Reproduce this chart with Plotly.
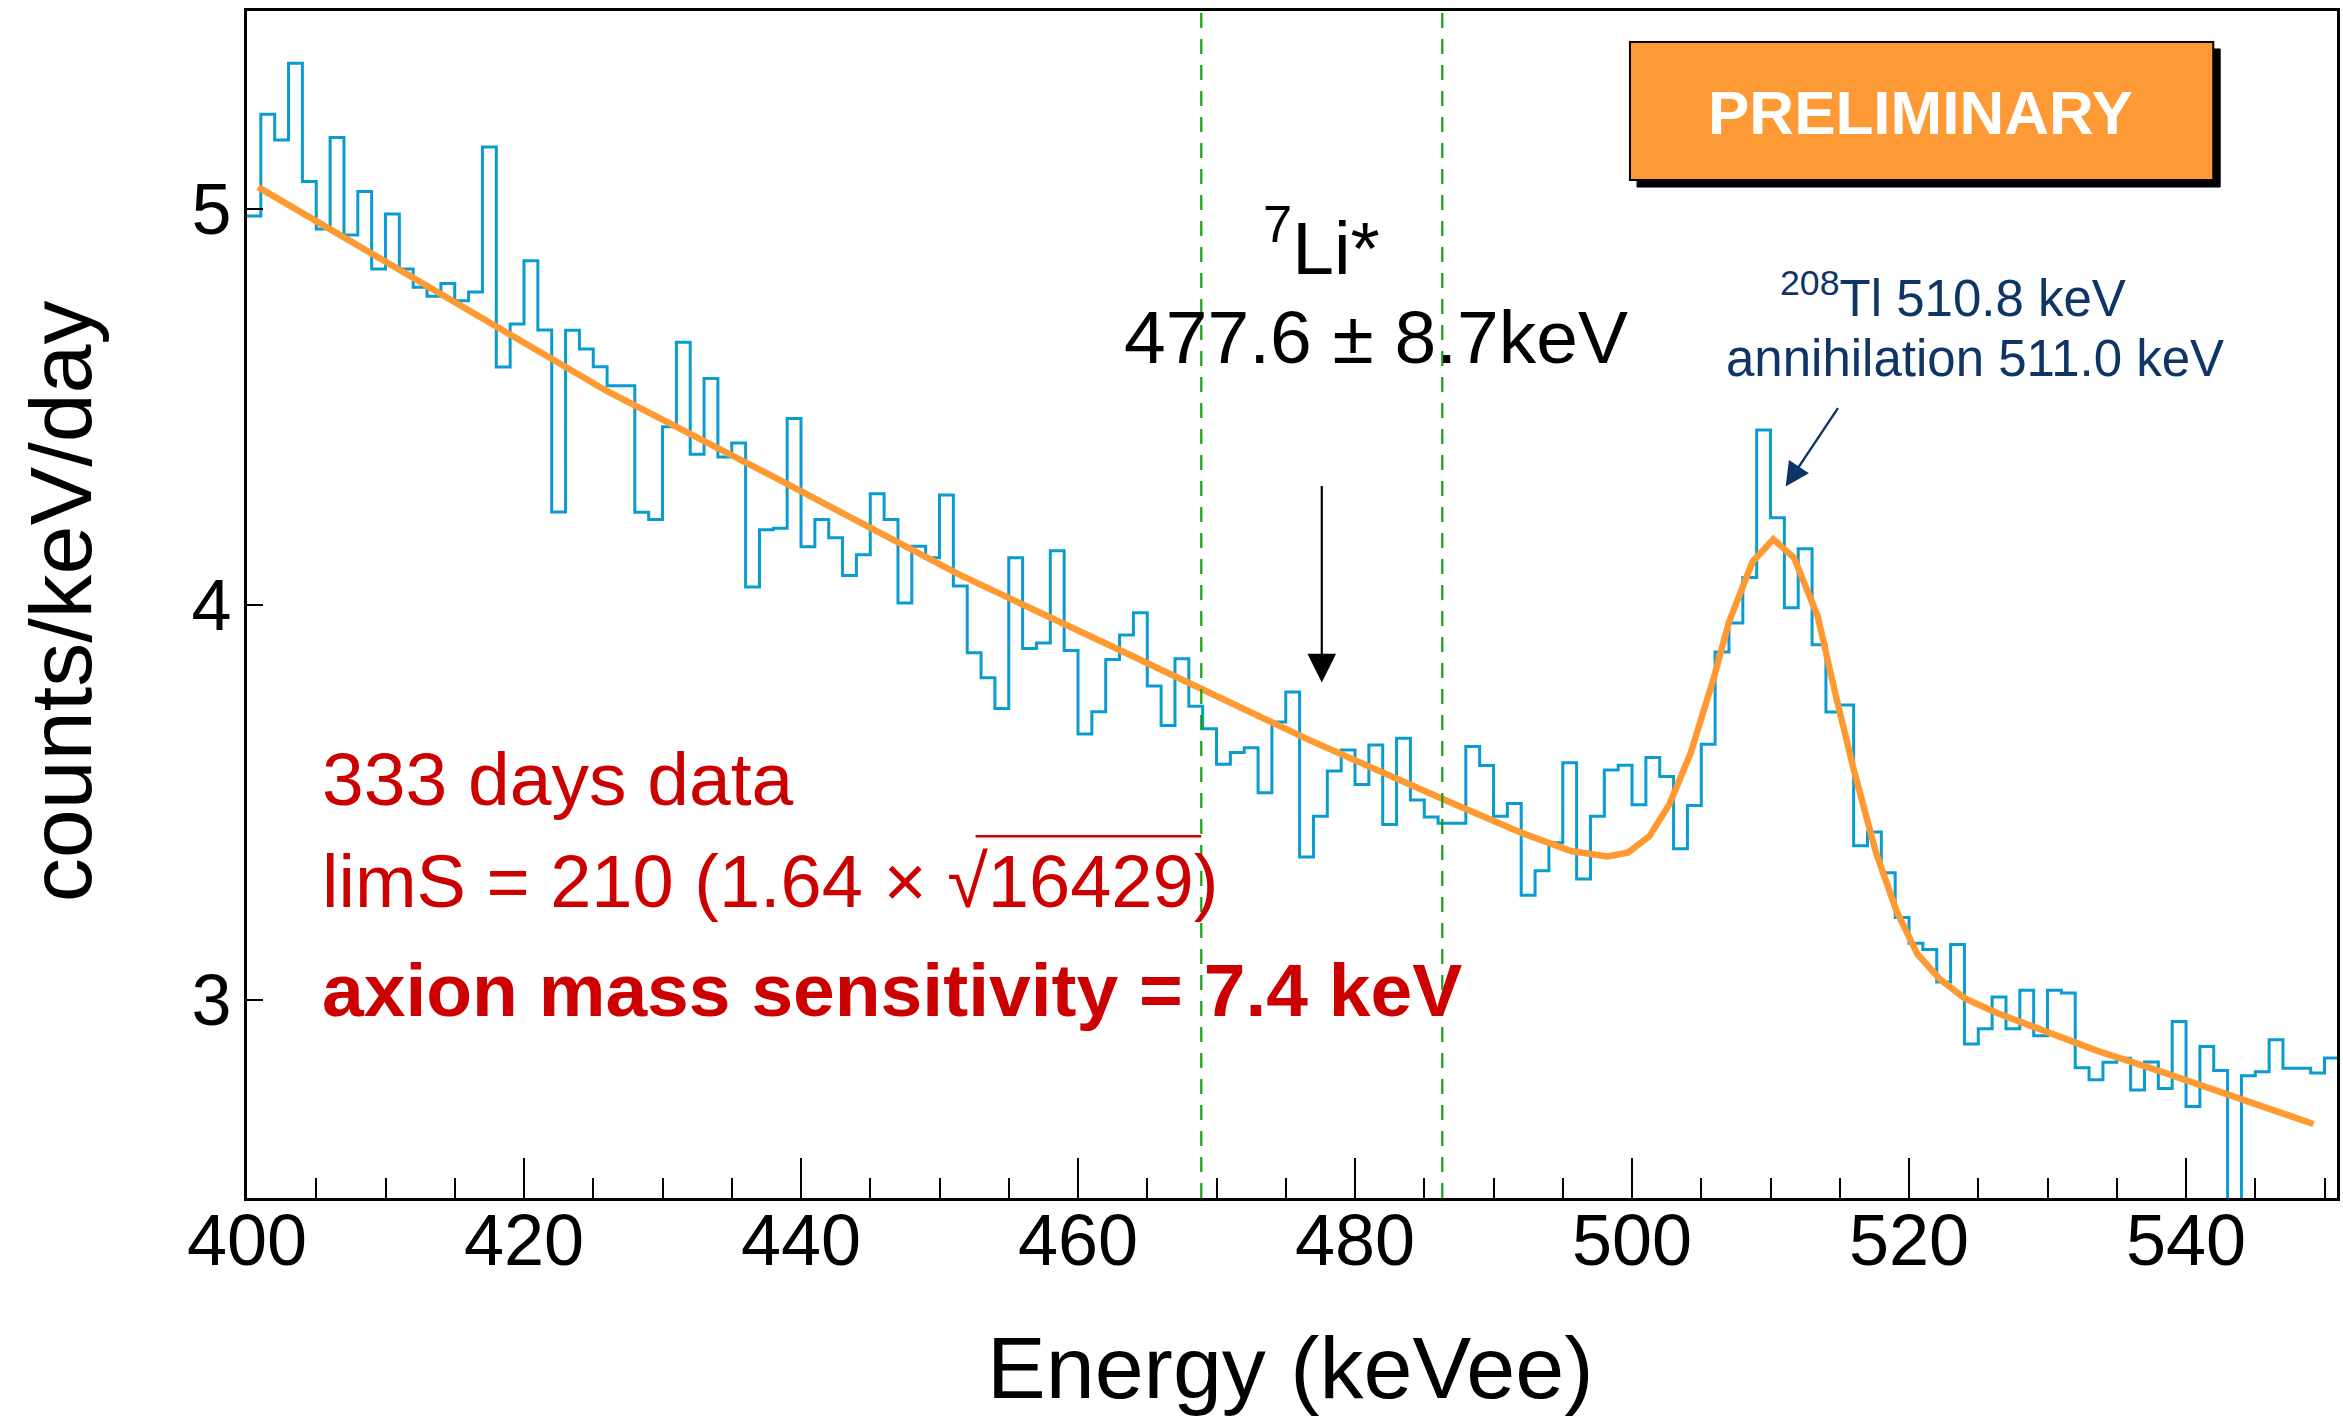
import plotly.graph_objects as go

# ---------------- data ----------------
bin_low_kev = list(range(400, 551))  # 1 keV bins, low edges
counts = [
    4.982, 5.239, 5.174, 5.368, 5.069, 4.949, 5.180, 4.934, 5.044, 4.848,  # 400-409
    4.987, 4.848, 4.802, 4.779, 4.811, 4.768, 4.790, 5.156, 4.600, 4.709,  # 410-419
    4.869, 4.694, 4.234, 4.693, 4.646, 4.601, 4.553, 4.553, 4.233, 4.215,  # 420-429
    4.449, 4.663, 4.380, 4.571, 4.373, 4.408, 4.044, 4.189, 4.193, 4.470,  # 430-439
    4.146, 4.215, 4.169, 4.073, 4.126, 4.280, 4.215, 4.004, 4.147, 4.118,  # 440-449
    4.277, 4.047, 3.878, 3.815, 3.737, 4.118, 3.889, 3.903, 4.136, 3.884,  # 450-459
    3.673, 3.729, 3.861, 3.923, 3.979, 3.794, 3.694, 3.863, 3.743, 3.686,  # 460-469
    3.596, 3.626, 3.638, 3.524, 3.703, 3.779, 3.362, 3.465, 3.579, 3.632,  # 470-479
    3.545, 3.645, 3.444, 3.662, 3.506, 3.463, 3.447, 3.447, 3.641, 3.593,  # 480-489
    3.465, 3.497, 3.265, 3.327, 3.398, 3.600, 3.306, 3.465, 3.582, 3.594,  # 490-499
    3.494, 3.613, 3.565, 3.383, 3.492, 3.647, 3.880, 3.953, 4.068, 4.441,  # 500-509
    4.219, 3.992, 4.141, 3.898, 3.728, 3.746, 3.390, 3.425, 3.322, 3.209,  # 510-519
    3.144, 3.128, 3.046, 3.141, 2.889, 2.928, 3.008, 2.928, 3.025, 2.910,  # 520-529
    3.025, 3.018, 2.829, 2.799, 2.843, 2.853, 2.773, 2.844, 2.777, 2.946,  # 530-539
    2.731, 2.883, 2.822, 2.400, 2.809, 2.819, 2.900, 2.828, 2.828, 2.816,  # 540-549
    2.854,                                                                 # 550
]

fit_energy = [400.8, 410.0, 426.0, 438.0, 451.4, 463.0, 476.6, 487.2, 492.0, 495.6,
              498.2, 499.7, 501.25, 502.7, 504.25, 505.9, 507.0, 508.7, 510.2, 511.7,
              513.4, 514.7, 516.0, 517.6, 519.1, 520.6, 522.2, 524.0, 526.4, 528.8,
              531.2, 533.6, 538.0, 543.5, 549.2]
fit_counts = [5.055, 4.867, 4.539, 4.323, 4.076, 3.885, 3.659, 3.495, 3.423, 3.377,
              3.363, 3.373, 3.414, 3.495, 3.626, 3.814, 3.956, 4.108, 4.165, 4.118,
              3.971, 3.772, 3.584, 3.375, 3.225, 3.117, 3.054, 3.005, 2.967, 2.935,
              2.905, 2.872, 2.822, 2.757, 2.687]

li_center = 477.6
li_sigma = 8.7
x_range = [400, 550.9]
y_range = [2.5, 5.5]
y_ticks = [3, 4, 5]

FONT = "Liberation Sans, Arial, Helvetica, sans-serif"
RED = "#cc0000"
NAVY = "#0f3566"
BLUE = "#0a9bd0"
ORANGE = "#ff9a33"
GREEN = "#14a014"

fig = go.Figure()

edges = bin_low_kev + [bin_low_kev[-1] + 1]
fig.add_trace(go.Scatter(
    x=edges, y=counts + [counts[-1]], mode="lines",
    line=dict(shape="hv", color=BLUE, width=3.0), hoverinfo="skip"))
fig.add_trace(go.Scatter(
    x=fit_energy, y=fit_counts, mode="lines",
    line=dict(color=ORANGE, width=6.5), hoverinfo="skip"))

# green dashed window lines
for xv in (li_center - li_sigma, li_center + li_sigma):
    fig.add_shape(type="line", x0=xv, x1=xv, y0=0, y1=1, xref="x", yref="paper",
                  line=dict(color=GREEN, width=2.2, dash="15px,11px"), layer="above")

# PRELIMINARY box (shadow + box)
fig.add_shape(type="rect", xref="paper", yref="paper", x0=0.6651, x1=0.9441, y0=0.8517, y1=0.968,
              fillcolor="black", line=dict(color="black", width=1), layer="above")
fig.add_shape(type="rect", xref="paper", yref="paper", x0=0.6617, x1=0.9408, y0=0.8576, y1=0.9739,
              fillcolor="#fd9a35", line=dict(color="black", width=2), layer="above")

annotations = [
    dict(text="<b>PRELIMINARY</b>", x=0.8008, y=0.9141, xref="paper", yref="paper",
         showarrow=False, font=dict(size=62, color="white"), xanchor="center", yanchor="middle"),
    dict(text="<sup>7</sup>Li*", x=li_center, y=4.915, xref="x", yref="y", showarrow=False,
         font=dict(size=75, color="black"), xanchor="center", yanchor="middle"),
    dict(text="477.6 ± 8.7keV", x=481.5, y=4.675, xref="x", yref="y", showarrow=False,
         font=dict(size=75, color="black"), xanchor="center", yanchor="middle"),
    dict(text="", x=li_center, y=3.803, ax=li_center, ay=4.303, xref="x", yref="y",
         axref="x", ayref="y", showarrow=True, arrowhead=2, arrowsize=2.6, arrowwidth=2.2,
         arrowcolor="black"),
    dict(text="<sup>208</sup>Tl 510.8 keV", x=523.2, y=4.782, xref="x", yref="y", showarrow=False,
         font=dict(size=51, color=NAVY), xanchor="center", yanchor="middle"),
    dict(text="annihilation 511.0 keV", x=524.76, y=4.622, xref="x", yref="y", showarrow=False,
         font=dict(size=51, color=NAVY), xanchor="center", yanchor="middle"),
    dict(text="", x=511.09, y=4.298, ax=514.94, ay=4.5, xref="x", yref="y",
         axref="x", ayref="y", showarrow=True, arrowhead=2, arrowsize=2.0, arrowwidth=2.4,
         arrowcolor=NAVY),
    dict(text="333 days data", x=405.3, y=3.56, xref="x", yref="y", showarrow=False,
         font=dict(size=75, color=RED), xanchor="left", yanchor="middle"),
    dict(text="limS = 210 (1.64 × √16429)", x=405.3, y=3.30, xref="x", yref="y", showarrow=False,
         font=dict(size=74, color=RED), xanchor="left", yanchor="middle"),
    dict(text="<b>axion mass sensitivity = 7.4 keV</b>", x=405.3, y=3.025, xref="x", yref="y",
         showarrow=False, font=dict(size=75, color=RED), xanchor="left", yanchor="middle"),
    dict(text="Energy (keVee)", x=0.4993, y=-0.1424, xref="paper", yref="paper", showarrow=False,
         font=dict(size=88, color="black"), xanchor="center", yanchor="middle"),
    dict(text="counts/keV/day", x=-0.0889, y=0.503, xref="paper", yref="paper", showarrow=False,
         textangle=-90, font=dict(size=88, color="black"), xanchor="center", yanchor="middle"),
]

# overline of the square root
fig.add_shape(type="line", xref="x", yref="y", x0=452.6, x1=li_center - li_sigma, y0=3.414, y1=3.414,
              line=dict(color=RED, width=2.5), layer="above")

fig.update_layout(
    width=2343, height=1420,
    margin=dict(l=247, r=3, t=11, b=222),
    paper_bgcolor="white", plot_bgcolor="white",
    showlegend=False,
    font=dict(family=FONT, color="black"),
    annotations=annotations,
)
fig.update_xaxes(
    range=x_range, tick0=400, dtick=20, ticks="inside", ticklen=40, tickwidth=2, tickcolor="black",
    minor=dict(tick0=400, dtick=5, ticks="inside", ticklen=20, tickwidth=2, tickcolor="black"),
    showline=True, linewidth=3, linecolor="black", mirror=True,
    showgrid=False, zeroline=False, tickfont=dict(size=72, family=FONT, color="black"),
    ticklabelstandoff=-22,
)
fig.update_yaxes(
    range=y_range, tickvals=y_ticks, ticks="inside", ticklen=16, tickwidth=2, tickcolor="black",
    showline=True, linewidth=3, linecolor="black", mirror=True,
    showgrid=False, zeroline=False, tickfont=dict(size=72, family=FONT, color="black"),
    ticklabelstandoff=-2,
)

fig.write_html("out.html", config={"displayModeBar": False},
               post_script="document.body.style.margin='0';document.body.style.overflow='hidden';")
